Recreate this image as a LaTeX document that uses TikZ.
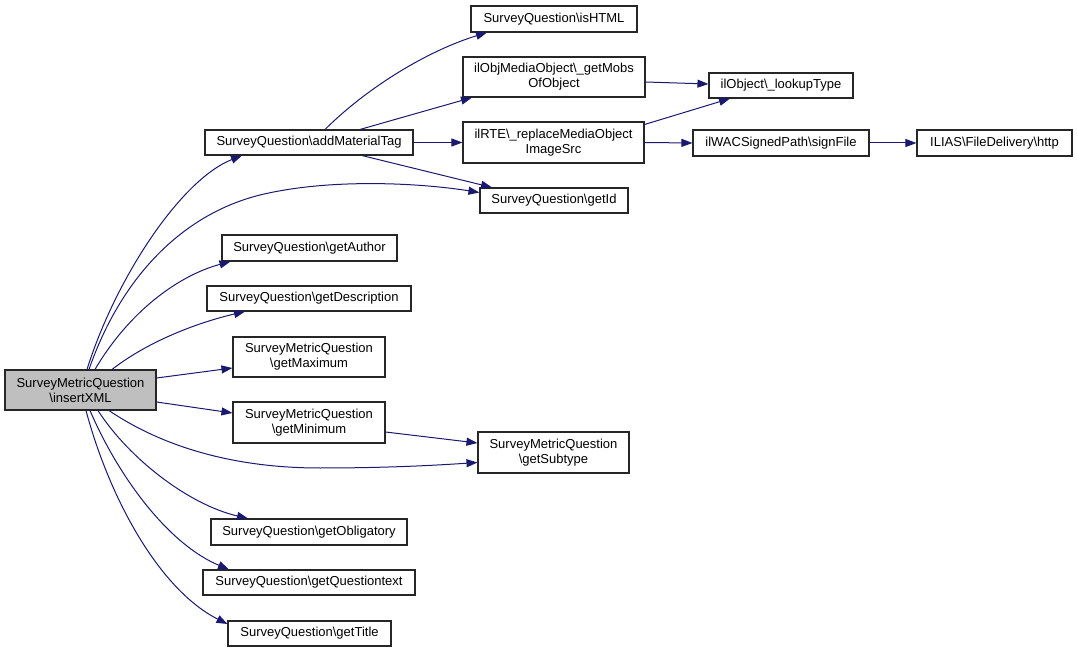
\documentclass[tikz,border=0pt]{standalone}
\usepackage{fontspec}
\setmainfont{Liberation Sans}
\usetikzlibrary{arrows.meta}
\definecolor{edgec}{HTML}{191970}
\tikzset{
  fn/.style={draw=black!85, line width=1.1pt, fill=white, inner sep=0pt, align=center,
     font=\fontsize{13}{15}\selectfont},
  rootfn/.style={fn, fill=black!25},
  call/.style={draw=edgec, line width=1pt, -{Triangle[length=11pt,width=8pt]}},
}
\begin{document}
\begin{tikzpicture}[x=1pt,y=-1pt]
\useasboundingbox (0,0) rectangle (1077,652);
\node[rootfn, minimum width=151pt, minimum height=40pt] (root) at (80.5,390) {SurveyMetricQuestion\\\textbackslash insertXML};
\node[fn, minimum width=208pt, minimum height=25pt] (amt) at (309,142.5) {SurveyQuestion\textbackslash addMaterialTag};
\node[fn, minimum width=166pt, minimum height=26pt] (ishtml) at (554,19) {SurveyQuestion\textbackslash isHTML};
\node[fn, minimum width=182pt, minimum height=40pt] (mobs) at (554,77) {ilObjMediaObject\textbackslash \_getMobs\\OfObject};
\node[fn, minimum width=181pt, minimum height=41pt] (rte) at (553.5,142.5) {ilRTE\textbackslash \_replaceMediaObject\\ImageSrc};
\node[fn, minimum width=148pt, minimum height=25pt] (getid) at (554,200.5) {SurveyQuestion\textbackslash getId};
\node[fn, minimum width=144pt, minimum height=25pt] (lookup) at (781,85.5) {ilObject\textbackslash \_lookupType};
\node[fn, minimum width=176pt, minimum height=26pt] (sign) at (781,143) {ilWACSignedPath\textbackslash signFile};
\node[fn, minimum width=155pt, minimum height=26pt] (http) at (994.5,143) {ILIAS\textbackslash FileDelivery\textbackslash http};
\node[fn, minimum width=175pt, minimum height=26pt] (author) at (309.5,248) {SurveyQuestion\textbackslash getAuthor};
\node[fn, minimum width=204pt, minimum height=25pt] (desc) at (309,298.5) {SurveyQuestion\textbackslash getDescription};
\node[fn, minimum width=152pt, minimum height=40pt] (max) at (309,357) {SurveyMetricQuestion\\\textbackslash getMaximum};
\node[fn, minimum width=152pt, minimum height=41pt] (min) at (309,422.5) {SurveyMetricQuestion\\\textbackslash getMinimum};
\node[fn, minimum width=151pt, minimum height=41pt] (subtype) at (553.5,452.5) {SurveyMetricQuestion\\\textbackslash getSubtype};
\node[fn, minimum width=196pt, minimum height=26pt] (oblig) at (309,532) {SurveyQuestion\textbackslash getObligatory};
\node[fn, minimum width=212pt, minimum height=25pt] (qtext) at (309,582.5) {SurveyQuestion\textbackslash getQuestiontext};
\node[fn, minimum width=163pt, minimum height=25pt] (title) at (309.5,633.5) {SurveyQuestion\textbackslash getTitle};

% from root, upward
\draw[call] ([xshift=6.5pt]root.north) .. controls (115,280) and (180,180) .. ([xshift=-67pt]amt.south);
\draw[call] ([xshift=8.5pt]root.north) .. controls (120,280) and (180,215) .. (260,195) .. controls (330,178) and (420,183) .. ([yshift=8pt]getid.west);
\draw[call] ([xshift=14.5pt]root.north) .. controls (130,310) and (180,275) .. ([xshift=-79pt]author.south);
\draw[call] ([xshift=31.5pt]root.north) .. controls (150,340) and (200,322) .. ([xshift=-64pt]desc.south);
\draw[call] ([yshift=12pt]root.east) -- ([yshift=-11pt]max.west);
\draw[call] ([yshift=-12pt]root.east) -- ([yshift=9.5pt]min.west);
% from root, downward
\draw[call] ([xshift=28.5pt]root.south) .. controls (160,445) and (230,468) .. (320,468) .. controls (390,468) and (440,465) .. ([yshift=-10pt]subtype.west);
\draw[call] ([xshift=17.5pt]root.south) .. controls (130,460) and (190,505) .. ([xshift=-61pt]oblig.north);
\draw[call] ([xshift=9.5pt]root.south) .. controls (120,480) and (170,545) .. ([xshift=-80pt]qtext.north);
\draw[call] ([xshift=5.5pt]root.south) .. controls (110,500) and (160,590) .. ([yshift=9.5pt]title.west);
% second level
\draw[call] ([xshift=16pt]amt.north) .. controls (370,85) and (430,50) .. ([xshift=-67pt]ishtml.south);
\draw[call] ([xshift=51pt]amt.north) -- ([xshift=-82pt]mobs.south);
\draw[call] (amt.east) -- (rte.west);
\draw[call] ([xshift=53pt]amt.south) -- ([xshift=-62pt]getid.north);
\draw[call] ([yshift=-5pt]mobs.east) -- ([yshift=1.5pt]lookup.west);
\draw[call] ([yshift=18pt]rte.east) -- ([xshift=-51pt]lookup.south);
\draw[call] (rte.east) -- (sign.west);
\draw[call] (sign.east) -- (http.west);
\draw[call] ([yshift=-9.5pt]min.east) -- ([yshift=9.5pt]subtype.west);
\end{tikzpicture}
\end{document}
